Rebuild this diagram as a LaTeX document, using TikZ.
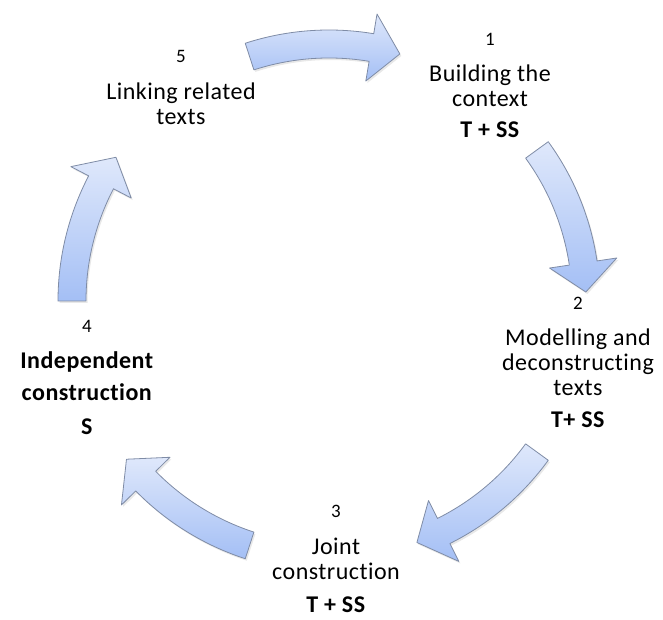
\documentclass[tikz,border=0pt]{standalone}
\usepackage{fontspec}
\setmainfont{Carlito}[Ligatures=NoCommon, LetterSpace=2]
\usetikzlibrary{shadows}

\definecolor{arrowtop}{HTML}{DFE8FB}
\definecolor{arrowbot}{HTML}{A4BFF5}
\definecolor{arrowline}{HTML}{7F8CA6}

\tikzset{
  cyclearrow/.style={draw=arrowline, line width=0.8pt, line join=round,
    top color=arrowtop, bottom color=arrowbot,
    drop shadow={opacity=0.18, shadow xshift=1.5pt, shadow yshift=-2pt}},
  steptext/.style={align=center, anchor=north, inner sep=0pt,
    font=\fontsize{24}{25}\selectfont},
}
\newcommand{\stepno}[1]{{\fontsize{19}{20}\selectfont #1}}

% curved block arrow on the ring: #1 tail angle, #2 tip angle
\newcommand{\ringarrow}[2]{%
  \draw[cyclearrow] (#1:271) arc[start angle=#1, end angle=#2+6.5, radius=271]
    -- (#2+6.5:291) -- (#2:257) -- (#2+6.5:223) -- (#2+6.5:243)
    arc[start angle=#2+6.5, end angle=#1, radius=243] -- cycle;}

\begin{document}
\begin{tikzpicture}[x=1pt, y=1pt]
  \useasboundingbox (0,0) rectangle (663,620);

  % arrows round the ring
  \begin{scope}[shift={(329,319)}]
    \ringarrow{108}{74}
    \ringarrow{36}{2}
    \ringarrow{-36}{-70}
    \ringarrow{-108}{-142}
    \ringarrow{180}{146}
  \end{scope}

  % steps
  \node[steptext] (build) at (490,587) {\stepno{1}\\[11pt]Building the\\context\\[6pt]\textbf{T + SS}};
  \node[steptext] (model) at (578,323) {\stepno{2}\\[11pt]Modelling and\\deconstructing\\texts\\[7pt]\textbf{T+ SS}};
  \node[steptext] (joint) at (336,115) {\stepno{3}\\[12pt]Joint\\construction\\[8pt]\textbf{T + SS}};
  \node[steptext] (indep) at (87,300) {\stepno{4}\\[11pt]\textbf{Independent}\\[7pt]\textbf{construction}\\[9pt]\textbf{S}};
  \node[steptext] (link) at (181,570) {\stepno{5}\\[12pt]Linking related\\texts};
\end{tikzpicture}
\end{document}
